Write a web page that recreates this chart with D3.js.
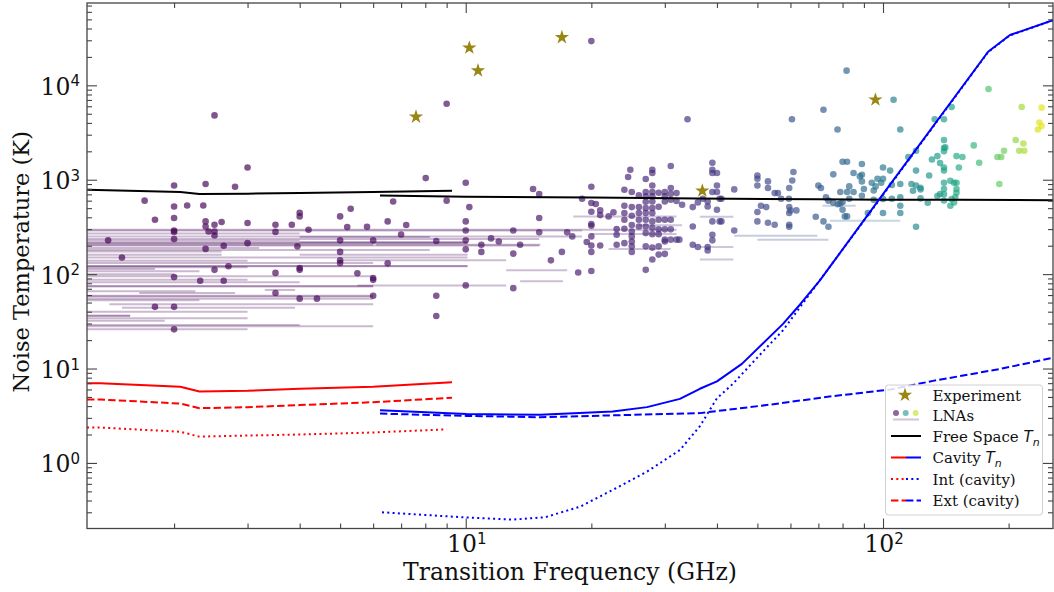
<!DOCTYPE html>
<html><head><meta charset="utf-8">
<script src="https://cdn.jsdelivr.net/npm/d3@7"></script>
<style>body{margin:0;background:#fff}svg{display:block}</style>
</head><body><svg id="c" width="1054" height="592"></svg>
<script>
// ---------------- DATA ----------------
const xMajorTicks = [10, 100];
const xMinorTicks = [2,3,4,5,6,7,8,9,20,30,40,50,60,70,80,90,200];
const yMajorTicks = [1, 10, 100, 1000, 10000];
const yMinorTicks = [0.3,0.4,0.5,0.6,0.7,0.8,0.9,2,3,4,5,6,7,8,9,20,30,40,50,60,70,80,90,200,300,400,500,600,700,800,900,2000,3000,4000,5000,6000,7000,8000,9000,20000,30000,40000,50000,60000,70000];
const xTickLabels = ["1", "2"];
const yTickLabels = ["0", "1", "2", "3", "4"];

const xLabel = "Transition Frequency (GHz)";
const yLabel = "Noise Temperature (K)";

// Experiments (stars)
const expFreq = [7.6, 10.2, 10.7, 17.0, 95.9, 36.9];
const expTemp = [4640, 25000, 14300, 32200, 7040, 764];

// LNA points [frequency GHz, noise temperature K]
const lnaPoints = [
[2.5,4800],[2.0,870],[2.38,900],[2.8,843],[3.0,1350],[1.7,600],
[2.0,521],[2.15,534],[2.35,534],[1.8,377],[2.0,393],[2.38,362],[2.5,333],[2.6,357],[2.38,320],[2.42,283],[2.5,283],[2.0,290],[2.0,280],[3.0,348],[3.5,333],[3.5,280],[3.83,333],[4.0,447],[4.0,409],[1.39,228],[2.0,235],[2.5,257],[3.0,213],[2.38,185],[2.63,200],[3.95,197],[1.5,150],[2.5,111],[2.7,121],[2.0,93],[2.31,85],[2.63,85],[3.5,103],[3.5,63],[4.0,116],[4.0,111],[1.8,45],[2.0,45],[2.0,26],
[9.0,6380],[20.0,29400],[34.0,4370],[8.02,1040],[10.0,930],[14.5,797],[15.0,706],[6.7,589],[9.0,600],[10.2,513],[19.0,629],[20.0,843],[20.0,566],[20.5,553],[20.0,458],[21.0,473],[21.0,422],[22.0,409],[22.6,451],[5.3,493],[5.0,409],[6.5,362],[7.2,331],[5.2,315],[5.8,318],[4.2,295],[10,362],[15.0,393],[10,290],[13.0,290],[15.0,277],[17.5,277],[20,340],[20,325],[18.0,251],[7.0,263],[5.0,228],[6.0,228],[8.5,224],[10,228],[11.5,239],[12.0,222],[10.9,205],[13.5,205],[19.5,219],[20,251],[20,201],[21,201],[5.0,172],[6.5,130],[5.0,140],[5.0,131],[10,183],[10.9,172],[13,165],[16.0,140],[17.0,172],[20,172],[18.6,104],[20,108],[5.5,102],[6.0,91],[27.0,111],[6.0,87],[8.5,59],[8.5,36],[6.0,59],[4.0,55],[4.4,55],[10,76],[13,71],
[24.8,1276],[24.5,1070],[28,1276],[28,1177],[31.0,1397],[27,1017],[28,870],[24,783],[25,740],[26,682],[27,740],[27,666],[27,585],[28,740],[28,666],[28,587],[29,729],[30,740],[30,666],[30,587],[31,817],[31,711],[31,614],[32,722],[32,595],[33,544],[35,513],[35,320],[35,205],[36,194],[36,575],[24,530],[25,513],[26,513],[26,444],[26,377],[26,320],[24,444],[24,377],[24,303],[25,415],[25,331],[25,283],[25,251],[25,222],[25,197],[25,172],[27,501],[27,444],[27,377],[27,320],[27,272],[27,197],[28,501],[28,444],[28,362],[28,310],[28,265],[28,191],[28,143],[29,516],[29,377],[29,298],[29,265],[29,197],[30,377],[30,298],[30,232],[30,222],[31,377],[31,298],[31,232],[32,232],[32.5,232],[23,300],[23,261],[23,205],[30,164],[29,161],[24,213],
[81.8,14300],[106,7040],[60.5,4370],[72,5520],[77.8,3410],[110,3410],[179,9140],[215,5900],[240,5800],[237,4040],[240,3700],[235,3410],[208,2640],[217,2420],[212,2030],[218,2030],[195,2030],[188,1740],[192,1740],[190,900],[165,2310],[170,1514],[146,5900],[140,4370],[133,4370],[140,2630],[140,2170],[141,2200],[140,2000],[150,1780],[155,1740],[152,1350],[131,1640],[135,1780],[137,1500],[140,1350],[140,1250],[120,1250],[115,1740],[120,2030],[129,1110],[140,930],[148,930],[145,975],[150,930],[140,797],[140,700],[140,603],[150,797],[150,726],[137,706],[135,672],[146,625],[149,650],[148,575],[145,530],[128,570],[123,634],[110,900],[117,900],[120,870],[123,823],[118,765],[123,790],[110,650],[110,530],[110,444],[120,318],[105,629],[100,444],[100,625],[105,880],[92,444],[104,1250],[100,1350],[97,1025],[99,930],[100,1025],[94,930],[96,850],[95,770],[90,797],[89,677],[95,614],[85,740],[82,740],[83,850],[83,629],[89,1470],[89,1130],[88,1085],[89,960],[85,1177],[80,1550],[82,1550],[76,1140],[79,740],[73,650],[74,600],[76,570],[78,550],[79,560],[80,580],[80,480],[81,409],[82,409],[72,362],[74,318],[69,405],[70,870],[71,817],[62,473],[60,473],[59.6,513],[59.6,444],[59.5,629],[57,629],[61,1206],[60.6,983],[59.6,817],[56,722],[55,722],[53,960],[53,817],[50,1110],[50,1025],[50,870],[44,790],[50,455],[50,362],[53,350],[55,333],[59.6,333],[59.6,318],[51,530],[52.5,513],[44,290],[39,1514],[39,1276],[39,1177],[40,1177],[40,870],[39,740],[40,740],[41,629],[40.6,629],[38,589],[38,521],[40,480],[39,362],[40.6,362],[41,362],[39,261],[39,228],[38,194],[38,178],[37,629]
];

// LNA bandwidth bars [low GHz, high GHz, noise temperature K]
const lnaBands = [
[1,32,295],[1,15,290],[1,4.0,270],[1,19,251],[1,15,235],[1,10.1,213],[1,10.1,215],[1,6.0,205],[1,15,201],[1,3.2,189],
[1,2.6,174],[1,2.6,160],[1,10.1,150],[1,3.0,139],[1,6.0,131],[1,10.1,121],[1,10.1,122],[1,1.8,113],[1,2.3,107],[1,6.0,95],
[1,3.0,87],[5.5,12.5,76],[1,6.0,75],[1,6.0,74],[3.3,3.9,68],[1,2.25,66],[1.65,2.8,63],[1,6.0,59],[1,6.0,58],[1,6.0,55],
[1,2.3,53],[1.5,3.9,44],[1,3.0,40],[1,1.57,36],[1,1.57,36.5],[1,3.0,34],[1,1.9,32],[1,4.0,29],[1,3.0,26],[1,6.0,28],
[18.1,32,409],[15,19,290],[20,32,266],[6.1,15.1,205],[13.5,17.1,84],[12.5,17.5,110],[4.0,10.1,219],[4.0,8.2,248],
[36.4,43.8,405],[44,69.6,255],[50,74,231],[36.4,43.8,194],[36.4,43.8,143],[74.6,110,368],[71.6,86,530],[22,31,185],[26,33,330],
[1,4.0,226],[1,8.2,180],[1,2.0,100],[1,4.0,82],[1.4,6.0,48],[4.0,10.1,160],[5.0,12.5,140],[1,3.0,118]
];

// Model curves
const fsLowFreq  = [1.237, 2.07, 2.3, 3.0, 4.0, 6.0, 9.27];
const fsLowTemp  = [783, 741, 706, 712, 723, 740, 764];
const fsHighFreq = [6.23, 10, 20, 36, 70, 100, 150, 255.5];
const fsHighTemp = [682, 660, 648, 632, 622, 615, 612, 608];

const cavLowFreq   = [1.237, 1.33, 2.07, 2.3, 3.0, 4.0, 6.0, 9.27];
const cavLowTemp   = [6.98, 7.0, 6.4, 5.7, 5.8, 6.1, 6.4, 7.16];
const extLowTemp   = [4.7, 4.7, 4.25, 3.8, 3.9, 4.1, 4.4, 4.9];
const intLowFreq   = [1.237, 1.33, 2.07, 2.3, 3.0, 4.0, 6.0, 9.0];
const intLowTemp   = [2.37, 2.37, 2.14, 1.9, 1.95, 2.0, 2.1, 2.27];

const cavHighFreq = [6.23, 10.05, 15.07, 22.5, 27.2, 32.6, 36.4, 40.0, 45.9, 57.6, 63.2, 70.6, 100, 178.6, 201.5, 255.4];
const cavHighTemp = [3.61, 3.3, 3.24, 3.5, 3.9, 4.77, 6.1, 7.3, 11.2, 29.7, 47.4, 85.8, 704, 22700, 34100, 49000];
const extHighFreq = [6.23, 10.05, 15.07, 36.4, 52.6, 75.9, 104.4, 131.8, 190.8, 255.4];
const extHighTemp = [3.33, 3.15, 3.05, 3.37, 4.1, 5.1, 6.0, 7.4, 9.9, 13.0];
const intHighFreq = [6.3, 10.05, 13.0, 15.5, 18.8, 22.5, 27.2, 32.6, 36.4, 40.0, 43.7, 52.7, 57.6, 69.4, 100, 178.6, 201.5, 255.4];
const intHighTemp = [0.30, 0.264, 0.251, 0.266, 0.344, 0.518, 0.81, 1.37, 2.45, 4.84, 6.9, 16.8, 25.4, 78, 690, 22500, 33800, 48800];

const legendLabels = ["Experiment", "LNAs", "Free Space ", "Cavity ", "Int (cavity)", "Ext (cavity)"];

// ---------------- DRAW ----------------
const L = 87, R = 1053, T = 3, B = 528.5;
const svg = d3.select("#c");
const x = d3.scaleLog().domain([1.237, 255.5]).range([L, R]);
const y = d3.scaleLog().domain([0.202, 74500]).range([B, T]);
const color = d3.scaleSequential(d3.interpolateViridis).domain([0, 250]);
const starColor = "#9a8613";
const serif = "DejaVu Serif, Liberation Serif, serif";

svg.append("defs").append("clipPath").attr("id", "clip")
  .append("rect").attr("x", L).attr("y", T).attr("width", R - L).attr("height", B - T);
const plot = svg.append("g").attr("clip-path", "url(#clip)");

// bands
plot.append("g").selectAll("line").data(lnaBands).join("line")
  .attr("x1", d => x(d[0])).attr("x2", d => x(d[1]))
  .attr("y1", d => y(d[2])).attr("y2", d => y(d[2]))
  .attr("stroke", d => color(Math.sqrt(d[0] * d[1])))
  .attr("stroke-opacity", 0.28).attr("stroke-width", 2);

// points
plot.append("g").selectAll("circle").data(lnaPoints).join("circle")
  .attr("cx", d => x(d[0])).attr("cy", d => y(d[1])).attr("r", 3.3)
  .attr("fill", d => color(d[0])).attr("fill-opacity", 0.68);

// curves
const line = d3.line().x(d => x(d[0])).y(d => y(d[1]));
const zip = (a, b) => a.map((v, i) => [v, b[i]]);
function curve(f, t, col, dash) {
  plot.append("path").datum(zip(f, t)).attr("d", line)
    .attr("fill", "none").attr("stroke", col).attr("stroke-width", 2)
    .attr("stroke-dasharray", dash || null).attr("stroke-linejoin", "round");
}
const DASH = "7.4,3.2", DOT = "2,3.3";
curve(fsLowFreq, fsLowTemp, "#000");
curve(fsHighFreq, fsHighTemp, "#000");
curve(cavLowFreq, cavLowTemp, "#ff0000");
curve(cavLowFreq, extLowTemp, "#ff0000", DASH);
curve(intLowFreq, intLowTemp, "#ff0000", DOT);
curve(cavHighFreq, cavHighTemp, "#0000ff");
curve(extHighFreq, extHighTemp, "#0000ff", DASH);
curve(intHighFreq, intHighTemp, "#0000ff", DOT);

// stars
const star = d3.symbol().type(d3.symbolStar).size(64);
plot.append("g").selectAll("path").data(zip(expFreq, expTemp)).join("path")
  .attr("d", star).attr("transform", d => `translate(${x(d[0])},${y(d[1])})`)
  .attr("fill", starColor);

// axes (inward ticks on all four sides)
const axCol = "#444";
function styleAxis(g) {
  g.select(".domain").remove();
  g.selectAll("line").attr("stroke", axCol).attr("stroke-width", 1.1);
  g.selectAll("text").remove();
}
svg.append("g").attr("transform", `translate(0,${B})`).call(d3.axisBottom(x).tickValues(xMajorTicks).tickSize(-10).tickFormat("")).call(styleAxis);
svg.append("g").attr("transform", `translate(0,${B})`).call(d3.axisBottom(x).tickValues(xMinorTicks).tickSize(-5).tickFormat("")).call(styleAxis);
svg.append("g").attr("transform", `translate(0,${T})`).call(d3.axisTop(x).tickValues(xMajorTicks).tickSize(-10).tickFormat("")).call(styleAxis);
svg.append("g").attr("transform", `translate(0,${T})`).call(d3.axisTop(x).tickValues(xMinorTicks).tickSize(-5).tickFormat("")).call(styleAxis);
svg.append("g").attr("transform", `translate(${L},0)`).call(d3.axisLeft(y).tickValues(yMajorTicks).tickSize(-10).tickFormat("")).call(styleAxis);
svg.append("g").attr("transform", `translate(${L},0)`).call(d3.axisLeft(y).tickValues(yMinorTicks).tickSize(-5).tickFormat("")).call(styleAxis);
svg.append("g").attr("transform", `translate(${R},0)`).call(d3.axisRight(y).tickValues(yMajorTicks).tickSize(-10).tickFormat("")).call(styleAxis);
svg.append("g").attr("transform", `translate(${R},0)`).call(d3.axisRight(y).tickValues(yMinorTicks).tickSize(-5).tickFormat("")).call(styleAxis);

svg.append("rect").attr("x", L).attr("y", T).attr("width", R - L).attr("height", B - T)
  .attr("fill", "none").attr("stroke", axCol).attr("stroke-width", 1.3);

// tick labels
function powLabel(px, py, exp, anchor) {
  const t = svg.append("text").attr("x", px).attr("y", py).attr("text-anchor", anchor)
    .style("font-family", serif).style("font-size", "23.5px").attr("fill", "#111");
  t.append("tspan").text("10");
  t.append("tspan").attr("dy", -8.5).style("font-size", "15px")
    .style("font-family", "DejaVu Sans, sans-serif").text(exp);
}
xMajorTicks.forEach((v, i) => powLabel(x(v) + 1, 552, xTickLabels[i], "middle"));
yMajorTicks.forEach((v, i) => powLabel(80, y(v) + 9.5, yTickLabels[i], "end"));

// axis titles
svg.append("text").attr("x", (L + R) / 2).attr("y", 580).attr("text-anchor", "middle")
  .style("font-family", serif).style("font-size", "23.5px").attr("fill", "#111").text(xLabel);
svg.append("text").attr("transform", `translate(29,${(T + B) / 2 - 4}) rotate(-90)`).attr("text-anchor", "middle")
  .style("font-family", serif).style("font-size", "22.5px").attr("fill", "#111").text(yLabel);

// legend
const lg = svg.append("g");
lg.append("rect").attr("x", 885.5).attr("y", 385).attr("width", 157).attr("height", 130).attr("rx", 3)
  .attr("fill", "#fff").attr("fill-opacity", 0.85).attr("stroke", "#d0d0d0").attr("stroke-width", 1);
const rowY = [395, 415.5, 436, 457.5, 479, 500.5];
const tx = 932.5, lx1 = 891, lx2 = 921, lxm = 906;
lg.append("path").attr("d", star).attr("transform", `translate(905,${rowY[0]})`).attr("fill", starColor);
lg.append("line").attr("x1", 893).attr("x2", 919).attr("y1", rowY[1] + 4).attr("y2", rowY[1] + 4)
  .attr("stroke", color(10)).attr("stroke-opacity", 0.25).attr("stroke-width", 2);
[[896, 0], [905.7, 125], [915.7, 225]].forEach(([cx, f]) =>
  lg.append("circle").attr("cx", cx).attr("cy", rowY[1] - 2.5).attr("r", 3).attr("fill", color(f)).attr("fill-opacity", 0.6));
lg.append("line").attr("x1", lx1).attr("x2", lx2).attr("y1", rowY[2]).attr("y2", rowY[2]).attr("stroke", "#000").attr("stroke-width", 2);
[[3, null], [4, DOT], [5, DASH]].forEach(([r, dash]) => {
  lg.append("line").attr("x1", lx1).attr("x2", lxm).attr("y1", rowY[r]).attr("y2", rowY[r]).attr("stroke", "#ff0000").attr("stroke-width", 2).attr("stroke-dasharray", dash);
  lg.append("line").attr("x1", lxm).attr("x2", lx2).attr("y1", rowY[r]).attr("y2", rowY[r]).attr("stroke", "#0000ff").attr("stroke-width", 2).attr("stroke-dasharray", dash);
});
legendLabels.forEach((lab, i) => {
  const t = lg.append("text").attr("x", tx).attr("y", rowY[i] + 5.5)
    .style("font-family", serif).style("font-size", "15px").attr("fill", "#111").text(lab);
  if (i === 2 || i === 3) {
    t.append("tspan").style("font-family", "DejaVu Sans, sans-serif").style("font-style", "italic").text("T");
    t.append("tspan").attr("dy", 4).style("font-family", "DejaVu Sans, sans-serif").style("font-style", "italic").style("font-size", "11px").text("n");
  }
});
</script></body></html>
